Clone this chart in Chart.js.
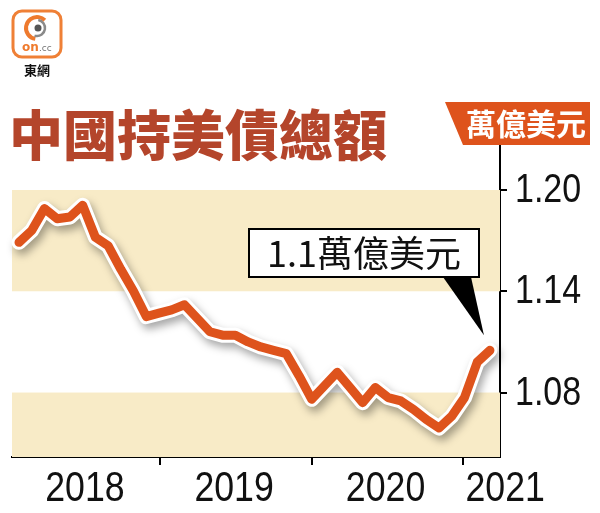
<!DOCTYPE html>
<html>
<head>
<meta charset="utf-8">
<script src="https://cdn.jsdelivr.net/npm/chart.js@4.4.1/dist/chart.umd.min.js"></script>
<style>
html,body{margin:0;padding:0;background:#fff;}
#wrap{width:600px;height:513px;position:relative;}
</style>
</head>
<body>
<div id="wrap"><canvas id="chartDebt" width="600" height="513"></canvas></div>
<script>
// China holdings of US Treasuries, trillion USD, monthly Jan 2018 - Feb 2021
const months=['2018-01','2018-02','2018-03','2018-04','2018-05','2018-06','2018-07','2018-08','2018-09','2018-10','2018-11','2018-12',
  '2019-01','2019-02','2019-03','2019-04','2019-05','2019-06','2019-07','2019-08','2019-09','2019-10','2019-11','2019-12',
  '2020-01','2020-02','2020-03','2020-04','2020-05','2020-06','2020-07','2020-08','2020-09','2020-10','2020-11','2020-12',
  '2021-01','2021-02'];
const holdings=[1.169,1.176,1.189,1.183,1.184,1.191,1.172,1.167,1.153,1.140,
  1.125,1.127,1.129,1.132,1.124,1.116,1.114,1.114,1.110,1.107,
  1.105,1.103,1.090,1.076,1.084,1.092,1.083,1.074,1.083,1.077,
  1.075,1.070,1.064,1.059,1.066,1.077,1.098,1.105];
const yTicks=[1.08,1.14,1.20];
const bands=[[1.14,1.20],[1.0418,1.08]];
const yearLabels=['2018','2019','2020','2021'];
const yearPos=[5.18,16.9,28.8,38.2];
const yearBounds=[11.08,23.02,34.88];
const title='中國持美債總額';
const unit='萬億美元';
const callout='1.1萬億美元';

const orange='#de531c';
const cjk="'Noto Sans CJK TC','Noto Sans CJK SC',sans-serif";
const latin="'Liberation Sans',Arial,sans-serif";

const points=holdings.map((v,i)=>({x:i,y:v}));

// narrow text: the source uses a condensed face
function narrowText(ctx,t,x,y,sx){
  ctx.save();ctx.translate(x,y);ctx.scale(sx,1);ctx.fillText(t,0,0);ctx.restore();
}

const decor={
  id:'decor',
  beforeDatasetsDraw(chart){
    const {ctx,chartArea:a,scales:{y}}=chart;
    ctx.save();
    ctx.fillStyle='#f8ebc7';
    bands.forEach(([lo,hi])=>{
      const t=y.getPixelForValue(hi),b=y.getPixelForValue(lo);
      ctx.fillRect(a.left,t,a.right-a.left,b-t);
    });
    ctx.restore();
  },
  beforeDatasetDraw(chart,args){
    if(args.index!==1) return;
    const ctx=chart.ctx;
    ctx.save();
    ctx.shadowColor='rgba(0,0,0,0.35)';
    ctx.shadowBlur=8;ctx.shadowOffsetX=3;ctx.shadowOffsetY=5;
  },
  afterDatasetDraw(chart,args){
    if(args.index!==1) return;
    chart.ctx.restore();
  },
  afterDraw(chart){
    const {ctx,chartArea:a,scales:{x,y}}=chart;
    ctx.save();
    // logo
    ctx.strokeStyle='#ef8036';ctx.lineWidth=3;
    ctx.beginPath();ctx.roundRect(13,11,48,46,9);ctx.stroke();
    ctx.lineWidth=4;ctx.strokeStyle='#ee7a2e';
    ctx.beginPath();ctx.arc(37,28,11,Math.PI*0.55,Math.PI*1.75);ctx.stroke();
    ctx.lineWidth=2.5;ctx.strokeStyle='#8a8a8a';
    ctx.beginPath();ctx.arc(37,28,8,-Math.PI*0.45,Math.PI*0.6);ctx.stroke();
    ctx.fillStyle='#555';ctx.beginPath();ctx.arc(38,28,3.5,0,Math.PI*2);ctx.fill();
    ctx.textBaseline='alphabetic';ctx.textAlign='left';
    ctx.fillStyle='#ef7a2c';ctx.font="bold 12px 'DejaVu Sans',sans-serif";
    ctx.fillText('on',22,51);
    ctx.fillStyle='#777';ctx.font="9px 'DejaVu Sans',sans-serif";
    ctx.fillText('.cc',39,51);
    ctx.fillStyle='#111';ctx.font="bold 13px "+cjk;ctx.textAlign='center';
    ctx.fillText('東網',37,75);
    // title
    ctx.textAlign='left';ctx.fillStyle='#b4452b';
    ctx.font="900 54px "+cjk;
    ctx.fillText(title,9,156);
    // unit box
    ctx.fillStyle=orange;
    ctx.beginPath();ctx.moveTo(445,102);ctx.lineTo(590,102);ctx.lineTo(590,145);ctx.lineTo(463,145);ctx.closePath();ctx.fill();
    ctx.fillStyle='#fff';ctx.font="bold 30px "+cjk;ctx.textBaseline='middle';
    ctx.fillText(unit,466,124);
    // y tick labels
    ctx.fillStyle='#111';ctx.font="40px "+latin;ctx.textAlign='left';ctx.textBaseline='middle';
    yTicks.forEach(v=>narrowText(ctx,v.toFixed(2),a.right+15,y.getPixelForValue(v)+1,0.85));
    // year labels
    ctx.font="42px "+latin;ctx.textAlign='center';ctx.textBaseline='alphabetic';
    yearLabels.forEach((t,i)=>narrowText(ctx,t,x.getPixelForValue(yearPos[i]),501,0.85));
    // callout pointing at the last point
    const last=holdings.length-1;
    const px=x.getPixelForValue(last),py=y.getPixelForValue(holdings[last]);
    ctx.fillStyle='#000';
    ctx.beginPath();ctx.moveTo(443,277);ctx.lineTo(471,277);ctx.lineTo(px-6,py-15);ctx.closePath();ctx.fill();
    ctx.fillStyle='#fff';ctx.fillRect(249,229,230,48);
    ctx.strokeStyle='#000';ctx.lineWidth=2;ctx.strokeRect(249,229,230,48);
    ctx.fillStyle='#111';ctx.font="36px "+cjk;ctx.textAlign='center';ctx.textBaseline='middle';
    ctx.fillText(callout,364,253);
    ctx.restore();
  }
};

const chartDebt=new Chart(document.getElementById('chartDebt').getContext('2d'),{
  type:'line',
  data:{
    labels:months,
    datasets:[
      {label:'持美債',data:points,borderColor:orange,borderWidth:9,order:1,
       pointRadius:0,tension:0,borderJoinStyle:'round',borderCapStyle:'round',clip:false},
      {label:'outline',data:points,borderColor:'#fff',borderWidth:15,order:2,
       pointRadius:0,tension:0,borderJoinStyle:'round',borderCapStyle:'round',clip:false}
    ]
  },
  options:{
    responsive:false,animation:false,
    layout:{padding:{top:145,left:12,right:0,bottom:0}},
    plugins:{legend:{display:false},tooltip:{enabled:false}},
    scales:{
      x:{type:'linear',min:-0.55,max:37.79,
        afterBuildTicks(s){s.ticks=yearBounds.map(v=>({value:v}));},
        afterFit(s){s.height=56;},
        ticks:{display:false},
        grid:{drawOnChartArea:false,drawTicks:true,tickLength:8,color:'#000',lineWidth:2},
        border:{color:'#000',width:2}},
      y:{position:'right',min:1.0418,max:1.22667,
        afterBuildTicks(s){s.ticks=yTicks.map(v=>({value:v}));},
        afterFit(s){s.width=100;},
        ticks:{display:false},
        grid:{drawOnChartArea:false,drawTicks:true,tickLength:7,color:'#000',lineWidth:2},
        border:{color:'#000',width:2}}
    }
  },
  plugins:[decor]
});
</script>
</body>
</html>
